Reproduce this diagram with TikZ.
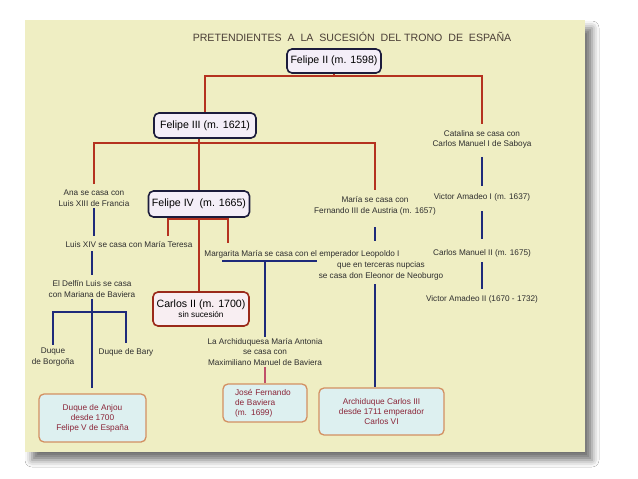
\documentclass[tikz,border=0pt]{standalone}
\usepackage{fontspec}
\setmainfont{Liberation Sans}
\usepackage{xcolor}
\definecolor{panelyellow}{HTML}{EFEEC3}
\definecolor{linered}{HTML}{B5321F}
\definecolor{lineblue}{HTML}{1E2A7A}
\definecolor{linepink}{HTML}{C0506A}
\definecolor{boxlilac}{HTML}{F4EEF8}
\definecolor{boxnavy}{HTML}{1C1C3C}
\definecolor{boxpink}{HTML}{F8EEF2}
\definecolor{boxcyan}{HTML}{DDF0F0}
\definecolor{boxtan}{HTML}{D39062}
\definecolor{textmaroon}{HTML}{8A2538}
\definecolor{textgray}{HTML}{2E2E2E}
\definecolor{titlebrown}{HTML}{4A3E36}
\usetikzlibrary{positioning, shadows.blur}

\tikzstyle{texto} = [
  align=center, inner sep=1pt, text=textgray,
  font=\fontsize{8.2}{10.6}\selectfont
]
\tikzstyle{rey} = [
  rectangle, rounded corners=5pt, minimum height=24pt,
  draw=boxnavy, line width=1.6pt, fill=boxlilac,
  text=black, font=\fontsize{10.6}{12}\selectfont, inner sep=3pt
]
\tikzstyle{reyrojo} = [
  rey, draw=linered!85!black, fill=boxpink, align=center
]
\tikzstyle{pretendiente} = [
  rectangle, rounded corners=5pt,
  draw=boxtan, line width=1.3pt, fill=boxcyan,
  text=textmaroon, align=center, font=\fontsize{8.3}{10}\selectfont
]
\tikzstyle{rama} = [linered, line width=1.7pt]
\tikzstyle{linea} = [lineblue, line width=1.7pt]
\tikzstyle{linearosa} = [linepink, line width=1.7pt]

\begin{document}
\begin{tikzpicture}[x=1pt, y=-1pt]

  % ── Fondo y panel ─────────────────────────────────────
  \fill[white] (0,0) rectangle (638,479);
  \useasboundingbox (0,0) rectangle (638,479);
  \fill[panelyellow, blur shadow={shadow xshift=7pt, shadow yshift=-8pt,
        shadow blur radius=7pt, shadow opacity=55}]
    (25,20) rectangle (585,452);

  \node[text=titlebrown, font=\fontsize{10.6}{12}\selectfont] (titulo) at (352,37)
    {PRETENDIENTES\ \ A\ \ LA\ \ SUCESIÓN\ \ DEL TRONO\ \ DE\ \ ESPAÑA};

  % ── Reyes ─────────────────────────────────────────────
  \node[rey, minimum width=94pt] (felipedos) at (334,61) {Felipe II (m. 1598)};
  \node[rey, minimum width=102pt, minimum height=25pt] (felipetres) at (205,125.5) {Felipe III (m. 1621)};
  \node[rey, minimum width=101pt, minimum height=26pt] (felipecuatro) at (199,204) {Felipe IV\ \ (m. 1665)};
  \node[reyrojo, minimum width=96pt, minimum height=34pt] (carlosdos) at (201,309)
    {Carlos II (m. 1700)\\[-2pt]{\fontsize{8.2}{9}\selectfont sin sucesión}};

  % ── Rama francesa ─────────────────────────────────────
  \node[texto] (ana) at (94,198.5) {Ana se casa con\\Luis XIII de Francia};
  \node[texto] (luiscatorce) at (129,245) {Luis XIV se casa con María Teresa};
  \node[texto] (delfin) at (92,289) {El Delfín Luis se casa\\con Mariana de Baviera};
  \node[texto] (borgona) at (53,357) {Duque\\de Borgoña};
  \node[texto] (bary) at (126,352) {Duque de Bary};
  \node[pretendiente, minimum width=107pt, minimum height=48pt] (anjou) at (92.5,418)
    {Duque de Anjou\\desde 1700\\Felipe V de España};

  % ── Rama austriaca ────────────────────────────────────
  \node[texto] (maria) at (375,206) {María se casa con\\Fernando III de Austria (m. 1657)};
  \node[texto] (margarita) at (302,254) {Margarita María se casa con el emperador Leopoldo I};
  \node[texto] (leopoldo) at (381,271) {que en terceras nupcias\\se casa don Eleonor de Neoburgo};
  \node[texto] (antonia) at (265,352)
    {La Archiduquesa María Antonia\\se casa con\\Maximiliano Manuel de Baviera};
  \node[pretendiente, align=left, text width=60pt, inner xsep=12pt,
        minimum height=38pt] (jose) at (265,403)
    {José Fernando\\de Baviera\\(m. 1699)};
  \node[pretendiente, minimum width=125pt, minimum height=47pt] (carlostres) at (381.5,411.5)
    {Archiduque Carlos III\\desde 1711 emperador\\Carlos VI};

  % ── Rama saboyana ─────────────────────────────────────
  \node[texto] (catalina) at (482,139.5) {Catalina se casa con\\Carlos Manuel I de Saboya};
  \node[texto] (vaprimero) at (482,197) {Victor Amadeo I (m. 1637)};
  \node[texto] (cmsegundo) at (482,253) {Carlos Manuel II (m. 1675)};
  \node[texto] (vasegundo) at (482,299) {Victor Amadeo II (1670 - 1732)};

  % ── Lineas rojas ──────────────────────────────────────
  \coordinate (barradf) at (334,76);
  \coordinate (barraft) at (205,143);
  \coordinate (barrafc) at (199,219);
  \coordinate (mariateresa) at (168,236);
  \coordinate (margaritafin) at (228,243);

  \draw[rama] (felipedos.south) -- (barradf);
  \draw[rama, shorten >=5pt] (felipetres.north) |- (barradf) -| (catalina.north);
  \draw[rama, shorten <=5pt, shorten >=6pt] (ana.north) |- (barraft) -| (maria.north);
  \draw[rama] (felipetres.south -| felipecuatro.north) -- (felipecuatro.north);
  \draw[rama] (mariateresa) |- (barrafc) -| (margaritafin);
  \draw[rama] (felipecuatro.south) -- (felipecuatro.south |- carlosdos.north);

  % ── Lineas azules ─────────────────────────────────────
  \draw[linea, shorten >=5pt] (ana.south) -- (ana.south |- luiscatorce.north);
  \draw[linea, shorten <=2pt, shorten >=4pt] (delfin.north |- luiscatorce.south) -- (delfin.north);
  \draw[linea, shorten >=5pt] (delfin.south) -- (delfin.south |- anjou.north);
  \coordinate (barradl) at (92,312);
  \draw[linea, shorten <=2pt] (borgona.north) |- (barradl) -| ([yshift=4pt]bary.north);

  \coordinate (margaritaizq) at (222,261);
  \coordinate (margaritader) at (317,261);
  \draw[linea] (margaritaizq) -- (margaritader);
  \draw[linea] (antonia.north |- margaritaizq) -- (antonia.north);

  \draw[linea] ([yshift=-11pt]maria.south) -- ([yshift=-25pt]maria.south);
  \draw[linea, shorten <=3pt] (leopoldo.south -| maria.south) -- (carlostres.north -| maria.south);

  \draw[linea, shorten <=7pt, shorten >=6pt] (catalina.south) -- (vaprimero.north);
  \draw[linea, shorten <=9pt, shorten >=9pt] (vaprimero.south) -- (cmsegundo.north);
  \draw[linea, shorten <=4pt, shorten >=5pt] (cmsegundo.south) -- (vasegundo.north);

  % ── Linea rosa ────────────────────────────────────────
  \draw[linearosa] (antonia.south) -- (jose.north);

\end{tikzpicture}
\end{document}
